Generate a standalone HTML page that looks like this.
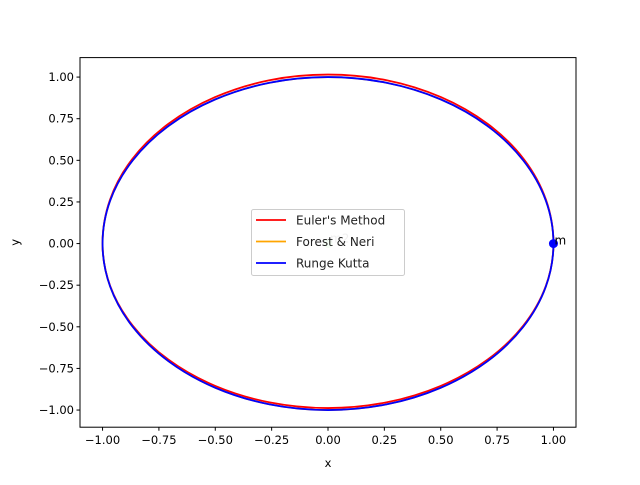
<!DOCTYPE html>
<html><head><meta charset="utf-8"><style>
body{margin:0;background:#fff}
svg{font-family:"DejaVu Sans","Liberation Sans",sans-serif}
</style></head><body>
<svg id="chart" width="640" height="480">
</svg>
<script>
const xTicks=[-1.00,-0.75,-0.50,-0.25,0.00,0.25,0.50,0.75,1.00];
const yTicks=[-1.00,-0.75,-0.50,-0.25,0.00,0.25,0.50,0.75,1.00];
const rkX=[1,0.966,0.866,0.707,0.5,0.259,0,-0.259,-0.5,-0.707,-0.866,-0.966,-1,-0.966,-0.866,-0.707,-0.5,-0.259,0,0.259,0.5,0.707,0.866,0.966];
const rkY=[0,0.259,0.5,0.707,0.866,0.966,1,0.966,0.866,0.707,0.5,0.259,0,-0.259,-0.5,-0.707,-0.866,-0.966,-1,-0.966,-0.866,-0.707,-0.5,-0.259];
const fnX=rkX.slice();
const fnY=rkY.slice();
const euX=[1,0.967,0.868,0.709,0.502,0.26,0,-0.26,-0.502,-0.709,-0.868,-0.967,-1,-0.966,-0.866,-0.707,-0.5,-0.259,0,0.259,0.5,0.707,0.866,0.966];
const euY=[0,0.263,0.508,0.718,0.879,0.981,1.015,0.981,0.879,0.718,0.508,0.263,0,-0.255,-0.493,-0.698,-0.855,-0.954,-0.988,-0.954,-0.855,-0.698,-0.493,-0.255];
const bodyM=[1,0];
const bodyM2=[0,0];

const L=80,R=576,T=57.6,B=427.2,xmin=-1.1,xmax=1.1,ymin=-1.103,ymax=1.117;
const sx=v=>L+(v-xmin)/(xmax-xmin)*(R-L);
const sy=v=>B-(v-ymin)/(ymax-ymin)*(B-T);
const fmt=v=>(v<0?'\u2212':'')+Math.abs(v).toFixed(2);
const svg=document.getElementById('chart');
const NS='http://www.w3.org/2000/svg';
function mk(tag,attrs,parent){const e=document.createElementNS(NS,tag);for(const k in attrs)e.setAttribute(k,attrs[k]);(parent||svg).appendChild(e);return e;}
function curve(xs,ys){const n=xs.length,P=xs.map((x,i)=>[sx(x),sy(ys[i])]);let d=`M${P[0][0]},${P[0][1]}`;
 for(let i=0;i<n;i++){const p0=P[(i-1+n)%n],p1=P[i],p2=P[(i+1)%n],p3=P[(i+2)%n];
 d+=` C${p1[0]+(p2[0]-p0[0])/6},${p1[1]+(p2[1]-p0[1])/6} ${p2[0]-(p3[0]-p1[0])/6},${p2[1]-(p3[1]-p1[1])/6} ${p2[0]},${p2[1]}`;}
 return d+'Z';}
let m2=mk('circle',{cx:sx(bodyM2[0]),cy:sy(bodyM2[1]),r:4.5,fill:'#90ee90',opacity:0.5});


let m2t=mk('text',{x:sx(bodyM2[0])+2,y:sy(bodyM2[1])-1,'font-size':12,fill:'#000',opacity:0.3});m2t.textContent='m2';


let e1=mk('path',{d:curve(euX,euY),fill:'none',stroke:'#ff0000','stroke-width':1.8});


let e2=mk('path',{d:curve(fnX,fnY),fill:'none',stroke:'#ffa500','stroke-width':1.8});


let e3=mk('path',{d:curve(rkX,rkY),fill:'none',stroke:'#0000ff','stroke-width':1.8});


let mp=mk('circle',{cx:sx(bodyM[0]),cy:sy(bodyM[1]),r:4.5,fill:'#0000ff'});


let mt=mk('text',{x:sx(bodyM[0])+1,y:sy(bodyM[1])+1,'font-size':12,fill:'#000'});mt.textContent='m';


let fr=mk('rect',{x:L,y:T,width:R-L,height:B-T,fill:'none',stroke:'#000','stroke-width':1});


xTicks.forEach(v=>{const x=sx(v);mk('line',{x1:x,x2:x,y1:B,y2:B+3.5,stroke:'#000'});
 const t=mk('text',{x:x,y:B+17,'font-size':11.5,'text-anchor':'middle',fill:'#000'});t.textContent=fmt(v);
 
 });
yTicks.forEach(v=>{const y=sy(v);mk('line',{x1:L-3.5,x2:L,y1:y,y2:y,stroke:'#000'});
 const t=mk('text',{x:L-6,y:y+4,'font-size':11.5,'text-anchor':'end',fill:'#000'});t.textContent=fmt(v);
 
 });
let xl=mk('text',{x:(L+R)/2,y:467,'font-size':11.5,'text-anchor':'middle'});xl.textContent='x';


let yl=mk('text',{x:19,y:(T+B)/2,'font-size':11.5,'text-anchor':'middle',transform:`rotate(-90 19 ${(T+B)/2})`});yl.textContent='y';


const lg=mk('g',{});


mk('rect',{x:251.5,y:209.5,width:153,height:66,rx:2,fill:'#fff','fill-opacity':0.8,stroke:'#ccc'},lg);
const names=["Euler's Method","Forest & Neri","Runge Kutta"],cols=['#ff0000','#ffa500','#0000ff'];
names.forEach((n,i)=>{const y=220+i*21.5;
 mk('line',{x1:256,x2:286,y1:y,y2:y,stroke:cols[i],'stroke-width':1.8},lg);
 const t=mk('text',{x:296,y:y+4.5,'font-size':12,fill:'#222'},lg);t.textContent=n;
 
 });
</script>
</body></html>
